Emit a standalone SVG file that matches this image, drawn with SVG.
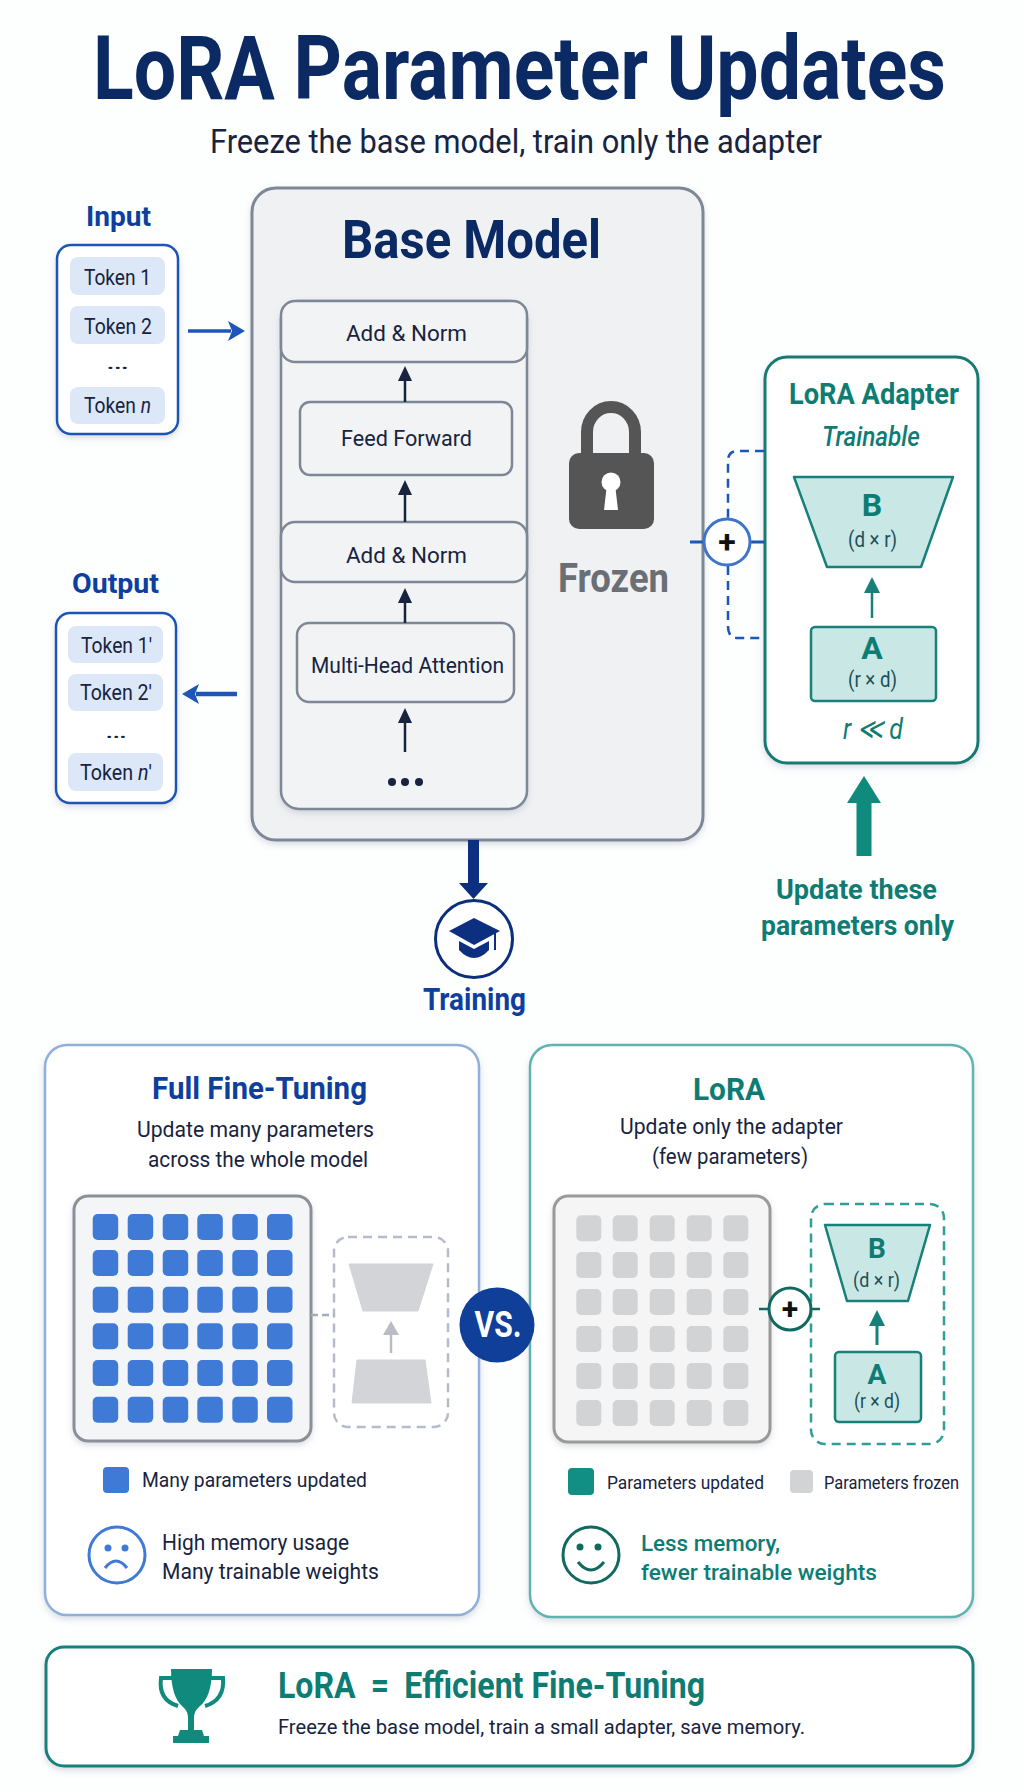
<svg xmlns="http://www.w3.org/2000/svg" width="1024" height="1792" viewBox="0 0 1024 1792">
<style>
text{font-family:Roboto,"Liberation Sans",sans-serif;font-size:22px;fill:#17233f}
.b{font-weight:700}.m{font-weight:500}.i{font-style:italic}
.c{text-anchor:middle}
.navy{fill:#0b2a63}.blue{fill:#0f3f9e}.teal{fill:#0f7c74}.grey{fill:#6a6e75}
.dim{fill:#1d4f55}
.tok{fill:#dce8f8}
.tbox{fill:#fff;stroke:#1d55b8;stroke-width:2.5}
.layer{fill:#f2f3f5;stroke:#7d8796;stroke-width:2.5}
.tr{fill:#c9e7e4;stroke:#17807a;stroke-width:2.5;stroke-linejoin:round}
.cell1{fill:#3f7bd6}.cell2{fill:#d2d3d5}
.ln{fill:none;stroke:#17233f;stroke-width:2.5}
.dash{fill:none;stroke:#1d55b8;stroke-width:2.5;stroke-dasharray:9 6}
.sol{fill:none;stroke:#1d55b8;stroke-width:3}
</style>
<defs>
<filter id="sh" x="-10%" y="-10%" width="120%" height="120%"><feDropShadow dx="0" dy="3" stdDeviation="3" flood-color="#7a8aa0" flood-opacity=".28"/></filter>
<marker id="aN" markerUnits="userSpaceOnUse" markerWidth="16" markerHeight="16" refX="2" refY="7" orient="auto"><path d="M0,0L15,7L0,14Z" fill="#17233f"/></marker>
<marker id="aB" markerUnits="userSpaceOnUse" markerWidth="20" markerHeight="22" refX="3" refY="10" orient="auto"><path d="M0,0L17,10L0,20L4,10Z" fill="#1d55b8"/></marker>
<marker id="aT" markerUnits="userSpaceOnUse" markerWidth="18" markerHeight="18" refX="2" refY="8" orient="auto"><path d="M0,0L16,8L0,16Z" fill="#17807a"/></marker>
<marker id="aG" markerUnits="userSpaceOnUse" markerWidth="16" markerHeight="18" refX="2" refY="8" orient="auto"><path d="M0,0L14,8L0,16Z" fill="#b9bcc1"/></marker>
</defs>
<rect width="1024" height="1792" fill="#fdfefe"/>

<g id="title">
<text class="b navy" transform="translate(93,99) scale(1,1.18)" style="font-size:76px" textLength="853" lengthAdjust="spacingAndGlyphs">LoRA Parameter Updates</text>
<text x="210" y="153" style="font-size:33px" textLength="612" lengthAdjust="spacingAndGlyphs">Freeze the base model, train only the adapter</text>
</g>

<g id="input">
<text class="b blue" x="86" y="226" style="font-size:28px" textLength="65" lengthAdjust="spacingAndGlyphs">Input</text>
<rect class="tbox" x="57" y="245" width="121" height="189" rx="14" filter="url(#sh)"/>
<rect class="tok" x="70" y="257" width="95" height="38" rx="8"/>
<rect class="tok" x="70" y="306" width="95" height="38" rx="8"/>
<rect class="tok" x="70" y="387" width="95" height="37" rx="8"/>
<text x="84" y="285" textLength="67" lengthAdjust="spacingAndGlyphs">Token 1</text>
<text x="84" y="334" textLength="68" lengthAdjust="spacingAndGlyphs">Token 2</text>
<text x="106" y="369" textLength="23" lengthAdjust="spacingAndGlyphs" style="font-size:20px">…</text>
<text x="84" y="413" textLength="67" lengthAdjust="spacingAndGlyphs">Token <tspan class="i">n</tspan></text>
</g>

<g id="output">
<text class="b blue" x="72" y="593" style="font-size:28px" textLength="87" lengthAdjust="spacingAndGlyphs">Output</text>
<rect class="tbox" x="56" y="613" width="120" height="190" rx="14" filter="url(#sh)"/>
<rect class="tok" x="68" y="626" width="95" height="37" rx="8"/>
<rect class="tok" x="68" y="674" width="95" height="37" rx="8"/>
<rect class="tok" x="68" y="753" width="95" height="38" rx="8"/>
<text x="81" y="653" textLength="71" lengthAdjust="spacingAndGlyphs">Token 1′</text>
<text x="80" y="700" textLength="72" lengthAdjust="spacingAndGlyphs">Token 2′</text>
<text x="105" y="738" textLength="22" lengthAdjust="spacingAndGlyphs" style="font-size:20px">…</text>
<text x="80" y="780" textLength="72" lengthAdjust="spacingAndGlyphs">Token <tspan class="i">n</tspan>′</text>
</g>

<g id="base-model">
<rect x="252" y="188" width="451" height="652" rx="24" fill="#f0f1f3" stroke="#7d8796" stroke-width="3" filter="url(#sh)"/>
<text class="b navy" x="342" y="258" style="font-size:54px" textLength="259" lengthAdjust="spacingAndGlyphs">Base Model</text>
<rect class="layer" x="281" y="301" width="246" height="508" rx="18" filter="url(#sh)"/>
<g id="layer-add-norm-2"><rect class="layer" x="281" y="301" width="246" height="61" rx="14"/><text x="346" y="341" textLength="121" lengthAdjust="spacingAndGlyphs">Add &amp; Norm</text></g>
<g id="layer-feed-forward"><rect class="layer" x="300" y="402" width="212" height="73" rx="10"/><text x="341" y="446" textLength="131" lengthAdjust="spacingAndGlyphs">Feed Forward</text></g>
<g id="layer-add-norm-1"><rect class="layer" x="281" y="522" width="246" height="60" rx="14"/><text x="346" y="563" textLength="121" lengthAdjust="spacingAndGlyphs">Add &amp; Norm</text></g>
<g id="layer-attention"><rect class="layer" x="297" y="623" width="217" height="79" rx="12"/><text x="311" y="673" textLength="193" lengthAdjust="spacingAndGlyphs">Multi-Head Attention</text></g>
<g id="layer-more"><circle cx="392" cy="782" r="4" fill="#17233f"/><circle cx="405" cy="782" r="4" fill="#17233f"/><circle cx="419" cy="782" r="4" fill="#17233f"/></g>
</g>

<g id="frozen">
<path d="M587,455V432a24,25 0 0 1 48,0V455" fill="none" stroke="#555" stroke-width="12"/>
<rect x="569" y="453" width="85" height="76" rx="10" fill="#555"/>
<circle cx="611" cy="482" r="9.5" fill="#fff"/>
<path d="M607,484H615L618,510H604Z" fill="#fff"/>
<text class="b grey" x="558" y="592" style="font-size:40px" textLength="111" lengthAdjust="spacingAndGlyphs">Frozen</text>
</g>

<g id="lora-adapter">
<rect x="765" y="357" width="213" height="406" rx="22" fill="#fff" stroke="#177a72" stroke-width="3" filter="url(#sh)"/>
<text class="b teal" x="789" y="404" style="font-size:30px" textLength="170" lengthAdjust="spacingAndGlyphs">LoRA Adapter</text>
<text class="m i teal" x="822" y="446" style="font-size:27px" textLength="98" lengthAdjust="spacingAndGlyphs">Trainable</text>
<g id="adapter-b"><path class="tr" d="M794,477H953L921,567H827Z"/>
<text class="b c teal" x="872" y="516" style="font-size:32px">B</text>
<text class="dim" x="848" y="547" textLength="49" lengthAdjust="spacingAndGlyphs">(d × r)</text></g>
<g id="adapter-a"><rect class="tr" x="811" y="627" width="125" height="74" rx="4"/>
<text class="b c teal" x="872" y="659" style="font-size:32px">A</text>
<text class="dim" x="848" y="687" textLength="49" lengthAdjust="spacingAndGlyphs">(r × d)</text></g>
<text class="i teal" x="843" y="739" style="font-size:30px" textLength="60" lengthAdjust="spacingAndGlyphs">r ≪ d</text>
</g>

<g id="update-label">
<text class="b teal" x="776" y="899" style="font-size:28px" textLength="161" lengthAdjust="spacingAndGlyphs">Update these</text>
<text class="b teal" x="761" y="935" style="font-size:28px" textLength="193" lengthAdjust="spacingAndGlyphs">parameters only</text>
</g>

<g id="training">
<circle cx="474" cy="939" r="38.500" fill="#fff" stroke="#0c2f7a" stroke-width="3"/>
<path d="M474,918L500,931L474,945L449,931Z" fill="#0c2f80"/>
<path d="M459,941L474,949L489,941V950Q474,966 459,950Z" fill="#0c2f80"/>
<path d="M495,933V950" stroke="#0c2f80" stroke-width="2" fill="none"/>
<text class="b blue" x="423" y="1010" style="font-size:31px" textLength="103" lengthAdjust="spacingAndGlyphs">Training</text>
</g>

<g id="full-fine-tuning">
<rect x="45" y="1045" width="434" height="570" rx="22" fill="#fff" stroke="#8fb0dc" stroke-width="2.500" filter="url(#sh)"/>
<text class="b blue" x="152" y="1099" style="font-size:32px" textLength="215" lengthAdjust="spacingAndGlyphs">Full Fine-Tuning</text>
<text x="137" y="1137" textLength="237" lengthAdjust="spacingAndGlyphs">Update many parameters</text>
<text x="148" y="1167" textLength="220" lengthAdjust="spacingAndGlyphs">across the whole model</text>
<rect x="74" y="1196" width="237" height="245" rx="14" fill="#f4f5f7" stroke="#8a8f98" stroke-width="3" filter="url(#sh)"/>
<g class="cell1">
<rect x="92.700" y="1214" width="25.500" height="26" rx="5"/><rect x="127.700" y="1214" width="25.500" height="26" rx="5"/><rect x="162.700" y="1214" width="25.500" height="26" rx="5"/><rect x="197.300" y="1214" width="25.500" height="26" rx="5"/><rect x="232.300" y="1214" width="25.500" height="26" rx="5"/><rect x="267" y="1214" width="25.500" height="26" rx="5"/>
<rect x="92.700" y="1250" width="25.500" height="26" rx="5"/><rect x="127.700" y="1250" width="25.500" height="26" rx="5"/><rect x="162.700" y="1250" width="25.500" height="26" rx="5"/><rect x="197.300" y="1250" width="25.500" height="26" rx="5"/><rect x="232.300" y="1250" width="25.500" height="26" rx="5"/><rect x="267" y="1250" width="25.500" height="26" rx="5"/>
<rect x="92.700" y="1286.700" width="25.500" height="26" rx="5"/><rect x="127.700" y="1286.700" width="25.500" height="26" rx="5"/><rect x="162.700" y="1286.700" width="25.500" height="26" rx="5"/><rect x="197.300" y="1286.700" width="25.500" height="26" rx="5"/><rect x="232.300" y="1286.700" width="25.500" height="26" rx="5"/><rect x="267" y="1286.700" width="25.500" height="26" rx="5"/>
<rect x="92.700" y="1323.300" width="25.500" height="26" rx="5"/><rect x="127.700" y="1323.300" width="25.500" height="26" rx="5"/><rect x="162.700" y="1323.300" width="25.500" height="26" rx="5"/><rect x="197.300" y="1323.300" width="25.500" height="26" rx="5"/><rect x="232.300" y="1323.300" width="25.500" height="26" rx="5"/><rect x="267" y="1323.300" width="25.500" height="26" rx="5"/>
<rect x="92.700" y="1360" width="25.500" height="26" rx="5"/><rect x="127.700" y="1360" width="25.500" height="26" rx="5"/><rect x="162.700" y="1360" width="25.500" height="26" rx="5"/><rect x="197.300" y="1360" width="25.500" height="26" rx="5"/><rect x="232.300" y="1360" width="25.500" height="26" rx="5"/><rect x="267" y="1360" width="25.500" height="26" rx="5"/>
<rect x="92.700" y="1396.700" width="25.500" height="26" rx="5"/><rect x="127.700" y="1396.700" width="25.500" height="26" rx="5"/><rect x="162.700" y="1396.700" width="25.500" height="26" rx="5"/><rect x="197.300" y="1396.700" width="25.500" height="26" rx="5"/><rect x="232.300" y="1396.700" width="25.500" height="26" rx="5"/><rect x="267" y="1396.700" width="25.500" height="26" rx="5"/>
</g>
<rect x="334" y="1237" width="114" height="190" rx="14" fill="#fff" stroke="#b4bccb" stroke-width="2.500" stroke-dasharray="9 6"/>
<path d="M349,1264H433L418,1311H363Z" fill="#d2d4d7" stroke="#d2d4d7" stroke-width="1" stroke-linejoin="round"/>
<path d="M357,1360H425L431,1403H352Z" fill="#d2d4d7" stroke="#d2d4d7" stroke-width="1" stroke-linejoin="round"/>
<rect class="cell1" x="103" y="1467" width="26" height="26" rx="4"/>
<text x="142" y="1487" style="font-size:20px" textLength="225" lengthAdjust="spacingAndGlyphs">Many parameters updated</text>
<g id="sad-face" fill="none" stroke="#3f7bd6" stroke-width="3"><circle cx="117" cy="1555" r="28"/><path d="M105,1568Q116,1554 127,1568"/><circle cx="108" cy="1548" r="3.500" fill="#3f7bd6" stroke="none"/><circle cx="125" cy="1548" r="3.500" fill="#3f7bd6" stroke="none"/></g>
<text x="162" y="1550" textLength="187" lengthAdjust="spacingAndGlyphs">High memory usage</text>
<text x="162" y="1579" textLength="217" lengthAdjust="spacingAndGlyphs">Many trainable weights</text>
</g>

<g id="lora-panel">
<rect x="530" y="1045" width="443" height="572" rx="22" fill="#fff" stroke="#5fb3b0" stroke-width="2.500" filter="url(#sh)"/>
<text class="b teal" x="693" y="1100" style="font-size:32px" textLength="72" lengthAdjust="spacingAndGlyphs">LoRA</text>
<text x="620" y="1134" textLength="223" lengthAdjust="spacingAndGlyphs">Update only the adapter</text>
<text x="652" y="1164" textLength="156" lengthAdjust="spacingAndGlyphs">(few parameters)</text>
<rect x="554" y="1196" width="216" height="246" rx="14" fill="#f5f5f6" stroke="#9a9a9a" stroke-width="3" filter="url(#sh)"/>
<g class="cell2">
<rect x="576.300" y="1215.300" width="25" height="26" rx="5"/><rect x="612.700" y="1215.300" width="25" height="26" rx="5"/><rect x="649.700" y="1215.300" width="25" height="26" rx="5"/><rect x="686.700" y="1215.300" width="25" height="26" rx="5"/><rect x="723.300" y="1215.300" width="25" height="26" rx="5"/>
<rect x="576.300" y="1252" width="25" height="26" rx="5"/><rect x="612.700" y="1252" width="25" height="26" rx="5"/><rect x="649.700" y="1252" width="25" height="26" rx="5"/><rect x="686.700" y="1252" width="25" height="26" rx="5"/><rect x="723.300" y="1252" width="25" height="26" rx="5"/>
<rect x="576.300" y="1289" width="25" height="26" rx="5"/><rect x="612.700" y="1289" width="25" height="26" rx="5"/><rect x="649.700" y="1289" width="25" height="26" rx="5"/><rect x="686.700" y="1289" width="25" height="26" rx="5"/><rect x="723.300" y="1289" width="25" height="26" rx="5"/>
<rect x="576.300" y="1326" width="25" height="26" rx="5"/><rect x="612.700" y="1326" width="25" height="26" rx="5"/><rect x="649.700" y="1326" width="25" height="26" rx="5"/><rect x="686.700" y="1326" width="25" height="26" rx="5"/><rect x="723.300" y="1326" width="25" height="26" rx="5"/>
<rect x="576.300" y="1363" width="25" height="26" rx="5"/><rect x="612.700" y="1363" width="25" height="26" rx="5"/><rect x="649.700" y="1363" width="25" height="26" rx="5"/><rect x="686.700" y="1363" width="25" height="26" rx="5"/><rect x="723.300" y="1363" width="25" height="26" rx="5"/>
<rect x="576.300" y="1400" width="25" height="26" rx="5"/><rect x="612.700" y="1400" width="25" height="26" rx="5"/><rect x="649.700" y="1400" width="25" height="26" rx="5"/><rect x="686.700" y="1400" width="25" height="26" rx="5"/><rect x="723.300" y="1400" width="25" height="26" rx="5"/>
</g>
<rect x="811" y="1204" width="133" height="240" rx="14" fill="none" stroke="#2e9f98" stroke-width="2.500" stroke-dasharray="9 6"/>
<g id="mini-b"><path class="tr" d="M825,1225H930L908,1301H847Z"/>
<text class="b c teal" x="877" y="1258" style="font-size:28px">B</text>
<text class="dim" x="853" y="1287" style="font-size:20px" textLength="47" lengthAdjust="spacingAndGlyphs">(d × r)</text></g>
<g id="mini-a"><rect class="tr" x="835" y="1352" width="86" height="70" rx="4"/>
<text class="b c teal" x="877" y="1384" style="font-size:28px">A</text>
<text class="dim" x="854" y="1408" style="font-size:20px" textLength="46" lengthAdjust="spacingAndGlyphs">(r × d)</text></g>
<rect x="568" y="1468" width="26" height="27" rx="4" fill="#118f85"/>
<text x="607" y="1489" style="font-size:18px" textLength="157" lengthAdjust="spacingAndGlyphs">Parameters updated</text>
<rect x="790" y="1470" width="23" height="23" rx="4" fill="#d2d3d5"/>
<text x="824" y="1489" style="font-size:18px" textLength="135" lengthAdjust="spacingAndGlyphs">Parameters frozen</text>
<g id="happy-face" fill="none" stroke="#12695f" stroke-width="3"><circle cx="591" cy="1555" r="28"/><path d="M578,1562Q591,1578 604,1562"/><circle cx="580" cy="1547" r="3.500" fill="#12695f" stroke="none"/><circle cx="598" cy="1547" r="3.500" fill="#12695f" stroke="none"/></g>
<text class="m teal" x="641" y="1551" textLength="139" lengthAdjust="spacingAndGlyphs">Less memory,</text>
<text class="m teal" x="641" y="1580" textLength="236" lengthAdjust="spacingAndGlyphs">fewer trainable weights</text>
</g>

<g id="connectors">
<line x1="188" y1="331" x2="231" y2="331" stroke="#1d55b8" stroke-width="3.500" marker-end="url(#aB)"/>
<line x1="237" y1="694" x2="196" y2="694" stroke="#1d55b8" stroke-width="4.500" marker-end="url(#aB)"/>
<line class="ln" x1="405" y1="402" x2="405" y2="379" marker-end="url(#aN)"/>
<line class="ln" x1="405" y1="522" x2="405" y2="493" marker-end="url(#aN)"/>
<line class="ln" x1="405" y1="623" x2="405" y2="601" marker-end="url(#aN)"/>
<line class="ln" x1="405" y1="752" x2="405" y2="721" marker-end="url(#aN)"/>
<path class="dash" d="M764,451H738Q728,451 728,461V518"/>
<path class="dash" d="M728,566V626Q728,638 738,638H764"/>
<line class="sol" x1="690" y1="542" x2="704" y2="542"/>
<line class="sol" x1="750" y1="542" x2="764" y2="542"/>
<path d="M468,840H479V883H488L473.500,899L459,883H468Z" fill="#0c2f80"/>
<path d="M856.500,856V803H847L864,776L881,803H871.500V856Z" fill="#118a7e"/>
<line x1="872" y1="618" x2="872" y2="591" stroke="#17807a" stroke-width="2.500" marker-end="url(#aT)"/>
<line x1="311" y1="1315" x2="334" y2="1315" stroke="#a6adbb" stroke-width="2.500" stroke-dasharray="7 4"/>
<line x1="391" y1="1353" x2="391" y2="1333" stroke="#b9bcc1" stroke-width="2.500" marker-end="url(#aG)"/>
<line x1="759" y1="1309" x2="769" y2="1309" stroke="#12695f" stroke-width="2.500"/>
<line x1="811" y1="1309" x2="820" y2="1309" stroke="#12695f" stroke-width="2.500"/>
<line x1="877" y1="1345" x2="877" y2="1324" stroke="#17807a" stroke-width="3" marker-end="url(#aT)"/>
</g>

<g id="plus-top">
<circle cx="727" cy="542" r="23" fill="#fff" stroke="#3f74c9" stroke-width="3"/>
<text class="b c" x="727" y="553" style="font-size:32px;fill:#111">+</text>
</g>

<g id="plus-mini">
<circle cx="790" cy="1309" r="21" fill="#fff" stroke="#12695f" stroke-width="3"/>
<text class="b c" x="790" y="1319" style="font-size:30px;fill:#111">+</text>
</g>

<g id="vs">
<circle cx="497" cy="1325" r="37.500" fill="#0f3f99"/>
<text class="b c" x="498" y="1337" style="font-size:36px;fill:#fff" textLength="47" lengthAdjust="spacingAndGlyphs">VS.</text>
</g>

<g id="summary">
<rect x="46" y="1647" width="927" height="119" rx="18" fill="#fff" stroke="#17807a" stroke-width="3" filter="url(#sh)"/>
<g id="trophy" fill="#118a7e">
<path d="M171,1669H212Q212,1697 199,1707Q194,1711 194,1718V1730H202L204,1736H209V1743H173V1736H178L180,1730H188V1718Q188,1711 183,1707Q171,1697 171,1669Z"/>
<path d="M172,1678H161Q158,1700 178,1706M211,1678H223Q225,1700 205,1706" fill="none" stroke="#118a7e" stroke-width="4"/>
</g>
<text class="b teal" x="278" y="1698" style="font-size:36px" textLength="427" lengthAdjust="spacingAndGlyphs"><tspan style="word-spacing:8px">LoRA = </tspan>Efficient Fine-Tuning</text>
<text x="278" y="1734" style="font-size:21px" textLength="527" lengthAdjust="spacingAndGlyphs">Freeze the base model, train a small adapter, save memory.</text>
</g>
</svg>
